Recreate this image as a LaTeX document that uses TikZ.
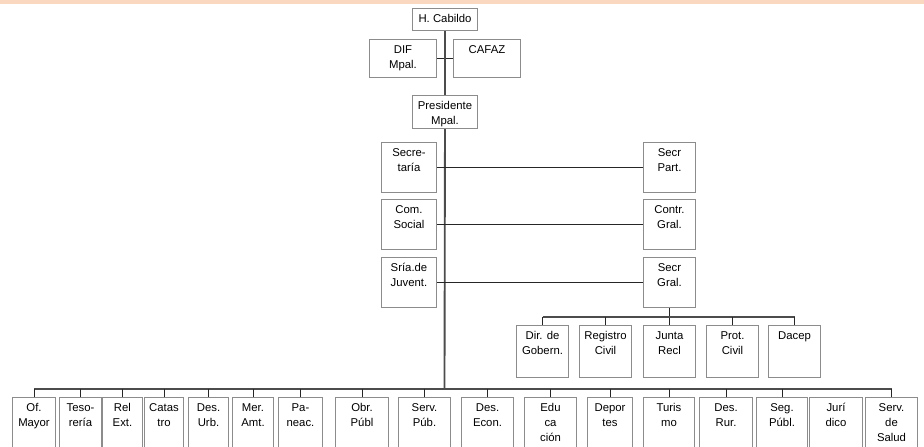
\documentclass[tikz,border=0pt]{standalone}
\usepackage{fontspec}
\setmainfont{Liberation Sans}
\newdimen\px \px=0.75pt
\newcommand{\bx}[3]{\parbox[c][#2\px][t]{#1\px}{\centering\rule{0pt}{14\px}#3}}
\definecolor{band}{RGB}{250,216,192}
\tikzset{
  unit/.style={draw=black!45, line width=0.75pt, fill=white, inner sep=0pt,
    anchor=north west, font=\fontsize{8.5}{11.25}\selectfont},
  link/.style={draw=black!85, line width=0.75pt},
  bus/.style={draw=black!70, line width=1.4pt}
}
\begin{document}
\begin{tikzpicture}[x=0.75pt,y=-0.75pt]
\useasboundingbox (0,0) rectangle (924,446);
\fill[band] (0,0) rectangle (924,4);
% top of the chart
\node[unit] (cab) at (412,8) {\bx{65}{22}{H. Cabildo}};
\node[unit] (dif) at (369,39) {\bx{67}{38}{DIF\\Mpal.}};
\node[unit] (cafaz) at (453,39) {\bx{67}{38}{CAFAZ}};
\node[unit] (pres) at (412,95) {\bx{65}{33}{Presidente\\Mpal.}};
\coordinate (root) at (444.5,389);
\draw[link] (dif) -- (cafaz);
\draw[bus] (cab) -- (pres);
\draw[bus] (pres) -- (root);
% staff pairs
\foreach \l/\r/\y/\lt/\rt in {sec/part/142/{Secre-\\taría}/{Secr\\Part.},
  soc/contr/199/{Com.\\Social}/{Contr.\\Gral.},
  juv/gral/257/{Sría.de\\Juvent.}/{Secr\\Gral.}}
{
  \node[unit] (\l) at (381,\y) {\bx{55}{50}{\lt}};
  \node[unit] (\r) at (643,\y) {\bx{52}{50}{\rt}};
  \draw[link] (\l) -- (\r);
}
% under Secr Gral
\foreach \n/\x/\t in {gob/516/{Dir. de\\Gobern.}, reg/579/{Registro\\Civil},
  junta/643/{Junta\\Recl}, prot/706/{Prot.\\Civil}, dacep/768/{Dacep}}
  \node[unit] (\n) at (\x,325) {\bx{52}{52}{\t}};
\draw[link] (gral) -- (junta);
\draw[bus] ([yshift=6pt]gob.north) -- ([yshift=6pt]dacep.north);
\foreach \n in {gob,reg,prot,dacep}
  \draw[link] (\n.north) -- ++(0,-8);
% bottom row
\foreach \i/\x/\w/\t in {1/12/43/{Of.\\Mayor}, 2/59/42/{Teso-\\rería},
  3/102/40/{Rel\\Ext.}, 4/144/39/{Catas\\tro}, 5/188/40/{Des.\\Urb.},
  6/232/41/{Mer.\\Amt.}, 7/278/44/{Pa-\\neac.}, 8/335/53/{Obr.\\Públ},
  9/398/52/{Serv.\\Púb.}, 10/461/52/{Des.\\Econ.}, 11/524/52/{Edu\\ca\\ción},
  12/587/45/{Depor\\tes}, 13/643/51/{Turis\\mo}, 14/699/53/{Des.\\Rur.},
  15/756/51/{Seg.\\Públ.}, 16/809/53/{Jurí\\dico}, 17/865/52/{Serv.\\de\\Salud}}
  \node[unit] (b\i) at (\x,397) {\bx{\w}{60}{\t}};
\draw[bus] ([yshift=6pt]b1.north) -- ([yshift=6pt]b17.north);
\foreach \i in {1,...,15,17}
  \draw[link] (b\i.north) -- ++(0,-8);
\end{tikzpicture}
\end{document}
